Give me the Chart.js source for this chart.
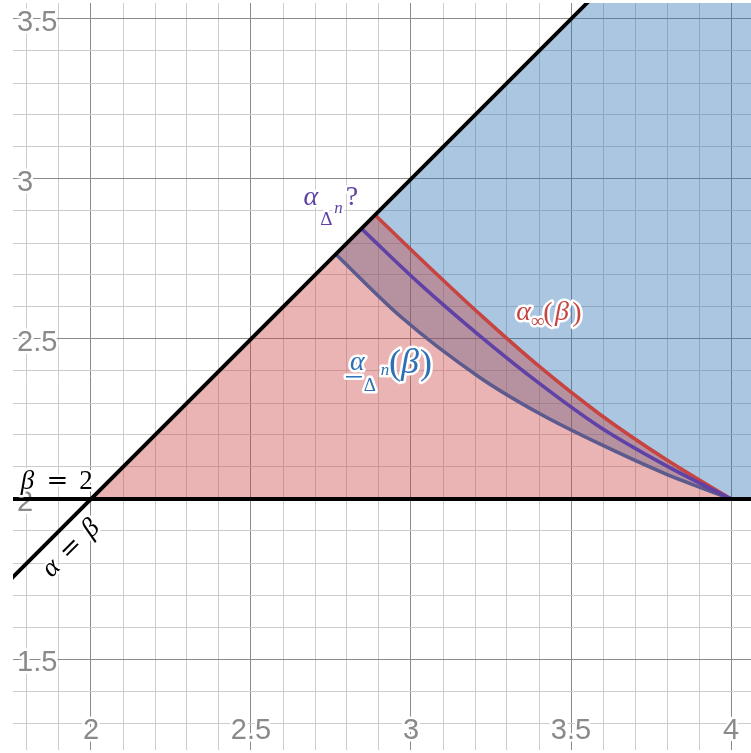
<!DOCTYPE html>
<html>
<head>
<meta charset="utf-8" />
<title>alpha / beta regions</title>
<script src="https://cdn.jsdelivr.net/npm/chart.js@4.4.0/dist/chart.umd.min.js"></script>
<style>
  body { margin: 0; background: #fff; }
  canvas { display: block; }
</style>
</head>
<body>
<canvas id="regionChart" width="751" height="753"></canvas>
<script>
// visible window of the (alpha, beta) plane
const xMin = 1.75625, xMax = 4.0625;
const yMin = 1.215625, yMax = 3.55;

const xTickLabels = ['2', '2.5', '3', '3.5', '4'];
const yTickLabels = ['1.5', '2', '2.5', '3', '3.5'];

// alpha_inf(beta)
const redAlpha = [2.8875, 3.06, 3.22, 3.40, 3.59, 3.79, 4.00];
const redBeta  = [2.8875, 2.722, 2.573, 2.415, 2.265, 2.128, 2.00];
// alpha_{Delta^n} ?
const purpleAlpha = [2.845, 3.03, 3.215, 3.40, 3.59, 3.79, 4.00];
const purpleBeta  = [2.845, 2.67, 2.51, 2.362, 2.225, 2.108, 2.00];
// lower bound alpha_{Delta^n}(beta)
const lowAlpha = [2.765, 2.97, 3.215, 3.40, 3.59, 3.79, 4.00];
const lowBeta  = [2.765, 2.568, 2.38, 2.268, 2.172, 2.081, 2.00];

const RED = '#c74440', BLUE = '#2d70b3', PURPLE = '#6042a6', SLATE = '#5d5a8e';
const redFill = 'rgba(199, 68, 64, 0.4)';
const blueFill = 'rgba(45, 112, 179, 0.4)';
const minorGrid = '#cdcdcd', majorGrid = '#8a8a8a', tickColor = '#8a8a8a';

function pts(xs, ys) {
  return xs.map((v, i) => ({ x: v, y: ys[i] }));
}

function gridValues(lo, hi) {
  const vals = [];
  for (let k = Math.ceil(lo * 10); k <= Math.floor(hi * 10); k++) vals.push({ value: k / 10 });
  return vals;
}

function gridColor(c) {
  const v = c.tick ? c.tick.value : 0;
  return Math.abs(v * 2 - Math.round(v * 2)) < 1e-6 ? majorGrid : minorGrid;
}

function line(color, data, width) {
  return { data, borderColor: color, borderWidth: width, pointRadius: 0, tension: 0, fill: false, clip: 0 };
}

function curve(color, data) {
  return Object.assign(line(color, data, 3.6), { cubicInterpolationMode: 'monotone' });
}

function area(data, fill, color, smooth) {
  const d = { data, borderWidth: 0, borderColor: 'rgba(0,0,0,0)', backgroundColor: color,
              pointRadius: 0, tension: 0, fill, clip: 0 };
  if (smooth) d.cubicInterpolationMode = 'monotone';
  return d;
}

const redPts = pts(redAlpha, redBeta);
const purplePts = pts(purpleAlpha, purpleBeta);
const lowPts = pts(lowAlpha, lowBeta);

// first dataset is drawn on top
const datasets = [
  line('#000', [{ x: 1.5, y: 1.5 }, { x: 4.2, y: 4.2 }], 3.8),           // alpha = beta
  line('#000', [{ x: 1.5, y: 2 }, { x: 4.2, y: 2 }], 3.8),               // beta = 2
  curve(PURPLE, purplePts),
  curve(RED, redPts),
  curve(SLATE, lowPts),                                                  // index 4
  area([{ x: 2, y: 2 }, { x: redAlpha[0], y: redBeta[0] }], { value: 2 }, redFill, false),
  area(redPts, { value: 2 }, redFill, true),
  area([{ x: lowAlpha[0], y: lowBeta[0] }, { x: 4.2, y: 4.2 }], 4, blueFill, false),
  area([{ x: 4, y: 2 }, { x: 4.2, y: 2 }], 'end', blueFill, false)
];

const serif = '"Liberation Serif", "DejaVu Serif", serif';
const notes = [
  { at: [1.778, 2.031], color: '#000', parts: [
    { t: 'β', dx: 7.5, dy: 0, size: 27, it: true },
    { t: '=', dx: 37.5, dy: 0, size: 26, fam: '"DejaVu Serif", serif' },
    { t: '2', dx: 66, dy: 0, size: 27 }
  ] },
  { at: [1.9406, 1.85625], rotate: -Math.PI / 4, color: '#000', parts: [
    { t: 'α', dx: -31, dy: 9, size: 27, it: true },
    { t: '=', dx: -3, dy: 9, size: 26, fam: '"DejaVu Serif", serif' },
    { t: 'β', dx: 25, dy: 9, size: 27, it: true }
  ] },
  { at: [2.659, 2.919], color: PURPLE, parts: [
    { t: 'α', dx: 9, dy: 0, size: 28, it: true },
    { t: 'Δ', dx: 24.5, dy: 20, size: 19 },
    { t: 'n', dx: 36.5, dy: 8, size: 17, it: true },
    { t: '?', dx: 50, dy: 0, size: 28 }
  ] },
  { at: [3.325, 2.559], color: RED, parts: [
    { t: 'α', dx: 8.5, dy: 0, size: 28, it: true },
    { t: '∞', dx: 22.5, dy: 7, size: 19 },
    { t: '(', dx: 33, dy: 1, size: 28 },
    { t: 'β', dx: 47, dy: 0, size: 28, it: true },
    { t: ')', dx: 62, dy: 1, size: 28 }
  ] },
  { at: [2.803, 2.403], color: BLUE, rule: [-2, 14, 6], parts: [
    { t: 'α', dx: 9.5, dy: 0, size: 28, it: true },
    { t: 'Δ', dx: 22, dy: 21, size: 19 },
    { t: 'n', dx: 37, dy: 5, size: 17, it: true },
    { t: '(', dx: 47, dy: 4, size: 36 },
    { t: 'β', dx: 62, dy: 3, size: 36, it: true },
    { t: ')', dx: 78, dy: 4, size: 36 }
  ] }
];

function fontOf(p) {
  return (p.it ? 'italic ' : '') + p.size + 'px ' + (p.fam || serif);
}

// axis numbers sit inside the plot, with a white outline over the grid
const tickLabels = {
  id: 'tickLabels',
  beforeDatasetsDraw(chart) {
    const { ctx, chartArea, scales: { x, y } } = chart;
    ctx.save();
    ctx.font = '29px "Liberation Sans", Arial, sans-serif';
    ctx.lineJoin = 'round';
    ctx.lineWidth = 5;
    ctx.strokeStyle = '#fff';
    ctx.fillStyle = tickColor;
    ctx.textBaseline = 'alphabetic';
    ctx.textAlign = 'center';
    xTickLabels.forEach(t => {
      const px = x.getPixelForValue(parseFloat(t));
      const py = chartArea.bottom - 11;
      ctx.strokeText(t, px, py);
      ctx.fillText(t, px, py);
    });
    ctx.textAlign = 'left';
    yTickLabels.forEach(t => {
      const py = y.getPixelForValue(parseFloat(t)) + 12;
      const px = chartArea.left + 4;
      ctx.strokeText(t, px, py);
      ctx.fillText(t, px, py);
    });
    ctx.restore();
  }
};

const mathLabels = {
  id: 'mathLabels',
  afterDatasetsDraw(chart) {
    const { ctx, scales: { x, y } } = chart;
    notes.forEach(n => {
      ctx.save();
      ctx.translate(x.getPixelForValue(n.at[0]), y.getPixelForValue(n.at[1]));
      if (n.rotate) ctx.rotate(n.rotate);
      ctx.textAlign = 'center';
      ctx.textBaseline = 'alphabetic';
      ctx.lineJoin = 'round';
      ctx.lineWidth = 5;
      ctx.strokeStyle = '#fff';
      n.parts.forEach(p => { ctx.font = fontOf(p); ctx.strokeText(p.t, p.dx, p.dy); });
      if (n.rule) ctx.strokeRect(n.rule[0], n.rule[2], n.rule[1] - n.rule[0], 1.5);
      ctx.fillStyle = n.color;
      n.parts.forEach(p => { ctx.font = fontOf(p); ctx.fillText(p.t, p.dx, p.dy); });
      if (n.rule) ctx.fillRect(n.rule[0], n.rule[2], n.rule[1] - n.rule[0], 1.5);
      ctx.restore();
    });
  }
};

const axisOpts = (lo, hi, horizontal) => ({
  type: 'linear',
  min: lo,
  max: hi,
  afterBuildTicks: s => { s.ticks = gridValues(lo, hi); },
  afterFit: s => { if (horizontal) s.height = 0; else s.width = 0; },
  ticks: { display: false },
  border: { display: false },
  grid: { drawTicks: false, color: gridColor, lineWidth: 1 }
});

new Chart(document.getElementById('regionChart'), {
  type: 'line',
  data: { datasets },
  options: {
    responsive: false,
    animation: false,
    events: [],
    layout: { padding: { left: 13, top: 3, right: 0, bottom: 3 } },
    plugins: { legend: { display: false }, tooltip: { enabled: false } },
    scales: {
      x: axisOpts(xMin, xMax, true),
      y: axisOpts(yMin, yMax, false)
    }
  },
  plugins: [tickLabels, mathLabels]
});
</script>
</body>
</html>
